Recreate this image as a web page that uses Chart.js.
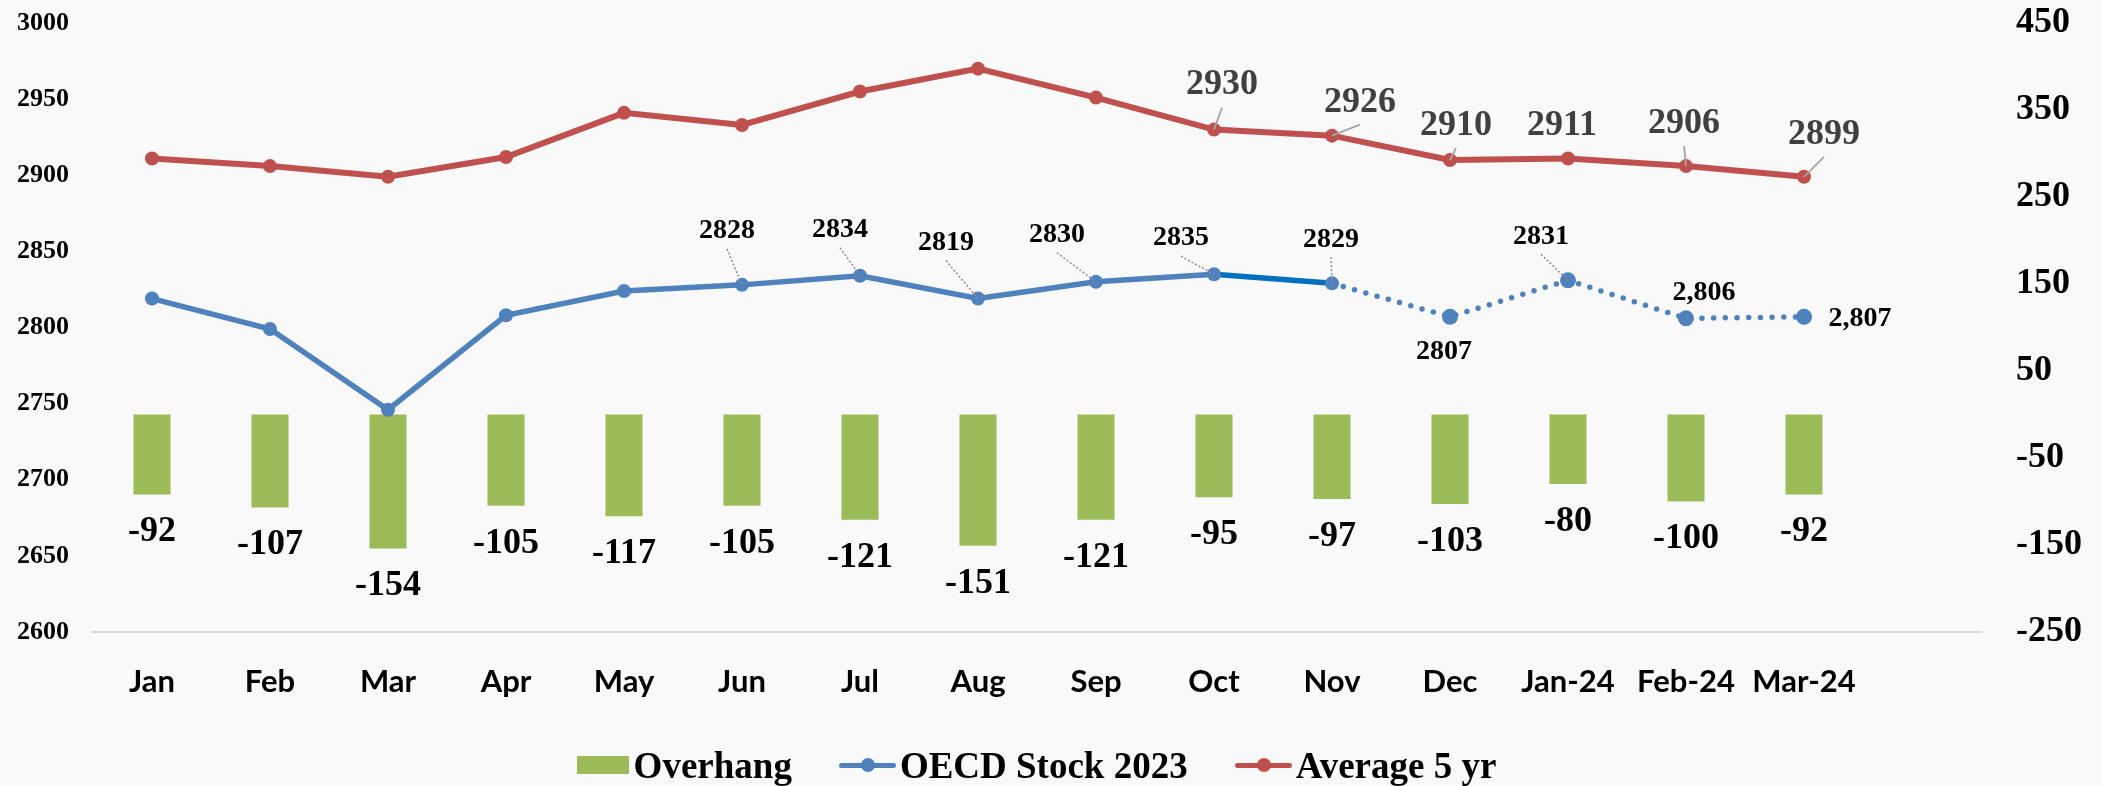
<!DOCTYPE html>
<html lang="en">

<head>
	<meta charset="UTF-8">
	<title>Overhang - OECD Stock</title>
	<script src="https://cdn.jsdelivr.net/npm/chart.js"></script>
	<style>
		html, body { margin: 0; padding: 0; background: #f9f9f9; }
		.wrapper { position: relative; width: 2102px; height: 786px; }
		#grafico { display: block; }
		#legenda {
			position: absolute; left: 0; top: 743px; width: 2102px; height: 44px;
			box-sizing: border-box; padding-right: 29px;
			display: flex; justify-content: center; align-items: center; gap: 47px;
			font: bold 37px "Liberation Serif"; color: #000;
		}
		#legenda .item { display: flex; align-items: center; white-space: nowrap; }
		#legenda .caixa { width: 52px; height: 18px; margin-right: 5px; }
		#legenda .marca { position: relative; width: 57px; height: 5px; border-radius: 3px; margin-right: 4px; }
		#legenda .marca::after {
			content: ''; position: absolute; left: 22px; top: -4.5px;
			width: 14px; height: 14px; border-radius: 50%; background: inherit;
		}
	</style>
</head>

<body>
	<div class="wrapper">
		<canvas id="grafico" width="2102" height="786"></canvas>
		<div id="legenda"></div>
	</div>

	<script>
		const meses = ['Jan', 'Feb', 'Mar', 'Apr', 'May', 'Jun', 'Jul', 'Aug', 'Sep', 'Oct', 'Nov', 'Dec', 'Jan-24', 'Feb-24', 'Mar-24', ''];
		const overhang = [-92, -107, -154, -105, -117, -105, -121, -151, -121, -95, -97, -103, -80, -100, -92, null];
		const oecdStock2023 = [2819, 2799, 2746, 2808, 2824, 2828, 2834, 2819, 2830, 2835, 2829, 2807, 2831, 2806, 2807, null];
		const average5yr = [2911, 2906, 2899, 2912, 2941, 2933, 2955, 2970, 2951, 2930, 2926, 2910, 2911, 2906, 2899, null];

		const leftMin = 2600, leftMax = 3000, leftStep = 50;
		const rightMin = -250, rightMax = 450, rightStep = 100;

		const verde = '#9BBB59';
		const azul = '#4F81BD';
		const azulForte = '#0070C0';
		const vermelho = '#C0504D';

		// where the value labels sit, relative to their point: [dx, dy, leader line]
		const posMedia = { 9: [8, -47, 1], 10: [28, -36, 1], 11: [6, -37, 1], 12: [-6, -35, 0], 13: [-2, -45, 1], 14: [20, -45, 1] };
		const posOecd = { 5: [-15, -56, 1], 6: [-20, -48, 1], 7: [-32, -58, 1], 8: [-39, -49, 1], 9: [-33, -38, 1], 10: [-1, -46, 1], 11: [-6, 33, 0], 12: [-27, -46, 1], 13: [18, -28, 0], 14: [56, 0, 0] };
		const comVirgula = [13, 14];

		function texto(ctx, s, x, cy, size) {
			ctx.fillText(s, x, cy + size * 0.33);
		}

		const rotulos = {
			id: 'rotulos',
			afterDatasetsDraw(chart) {
				const ctx = chart.ctx;
				ctx.save();
				ctx.textAlign = 'center';
				ctx.textBaseline = 'alphabetic';

				// overhang labels below each bar
				ctx.font = 'bold 36px "Liberation Serif"';
				ctx.fillStyle = '#000';
				chart.getDatasetMeta(0).data.forEach((bar, i) => {
					if (overhang[i] == null) return;
					texto(ctx, String(overhang[i]), bar.x, bar.y + 35, 36);
				});

				// OECD stock labels
				const oecdMeta = chart.getDatasetMeta(1).data;
				Object.keys(posOecd).forEach(k => {
					const i = Number(k);
					const p = oecdMeta[i];
					const [dx, dy, lider] = posOecd[k];
					const lx = p.x + dx, ly = p.y + dy;
					if (lider) {
						ctx.save();
						ctx.strokeStyle = '#8c8c8c';
						ctx.lineWidth = 1.5;
						ctx.setLineDash([2, 2]);
						ctx.beginPath();
						ctx.moveTo(lx, ly + 20);
						ctx.lineTo(p.x, p.y);
						ctx.stroke();
						ctx.restore();
					}
					ctx.font = 'bold 28px "Liberation Serif"';
					ctx.fillStyle = '#000';
					const v = comVirgula.includes(i) ? oecdStock2023[i].toLocaleString('en-US') : String(oecdStock2023[i]);
					texto(ctx, v, lx, ly, 28);
				});

				// 5 yr average labels
				const mediaMeta = chart.getDatasetMeta(2).data;
				Object.keys(posMedia).forEach(k => {
					const i = Number(k);
					const p = mediaMeta[i];
					const [dx, dy, lider] = posMedia[k];
					const lx = p.x + dx, ly = p.y + dy;
					if (lider) {
						ctx.strokeStyle = '#a6a6a6';
						ctx.lineWidth = 1.8;
						ctx.beginPath();
						ctx.moveTo(p.x, p.y);
						ctx.lineTo(lx, ly + 25);
						ctx.stroke();
					}
					ctx.font = 'bold 36px "Liberation Serif"';
					ctx.fillStyle = '#404040';
					texto(ctx, String(average5yr[i]), lx, ly, 36);
				});
				ctx.restore();
			}
		};

		const eixoY = (largura) => s => {
			s.width = largura;
			s.paddingTop = 0;
			s.paddingBottom = 0;
		};

		const ctx = document.getElementById('grafico').getContext('2d');
		const grafico = new Chart(ctx, {
			type: 'bar',
			data: {
				labels: meses,
				datasets: [{
					type: 'bar',
					label: 'Overhang',
					data: overhang,
					yAxisID: 'y1',
					backgroundColor: verde,
					borderWidth: 0,
					barPercentage: 0.314,
					categoryPercentage: 1,
					order: 2
				}, {
					type: 'line',
					label: 'OECD Stock 2023',
					data: oecdStock2023,
					yAxisID: 'y',
					borderColor: azul,
					backgroundColor: azul,
					borderWidth: 5.5,
					pointRadius: c => c.dataIndex >= 11 ? 8 : 7,
					pointBorderWidth: 0,
					pointBackgroundColor: azul,
					tension: 0,
					order: 1,
					segment: {
						borderColor: s => s.p0DataIndex === 9 ? azulForte : azul,
						borderDash: s => s.p0DataIndex >= 10 ? [0, 11.7] : [],
						borderCapStyle: s => s.p0DataIndex >= 10 ? 'round' : 'butt'
					}
				}, {
					type: 'line',
					label: 'Average 5 yr',
					data: average5yr,
					yAxisID: 'y',
					borderColor: vermelho,
					backgroundColor: vermelho,
					borderWidth: 6,
					pointRadius: 7,
					pointBorderWidth: 0,
					pointBackgroundColor: vermelho,
					tension: 0,
					order: 0
				}]
			},
			options: {
				responsive: false,
				animation: false,
				layout: { padding: { top: 23, bottom: 0, left: 0, right: 0 } },
				plugins: {
					tooltip: { enabled: false },
					legend: { display: false }
				},
				scales: {
					x: {
						grid: { display: false, drawTicks: false },
						border: { display: true, color: '#d9d9d9', width: 2 },
						ticks: {
							color: '#000',
							padding: 31,
							autoSkip: false,
							maxRotation: 0,
							font: { family: 'Lato', weight: 'bold', size: 31 }
						},
						afterFit: s => {
							s.height = 154;
							s.paddingLeft = 0;
							s.paddingRight = 0;
						}
					},
					y: {
						position: 'left',
						min: leftMin,
						max: leftMax,
						grid: { display: false, drawTicks: false },
						border: { display: false },
						ticks: {
							stepSize: leftStep,
							color: '#000',
							padding: 24,
							callback: v => String(v),
							font: { family: 'Liberation Serif', weight: 'bold', size: 26 }
						},
						afterFit: eixoY(93)
					},
					y1: {
						position: 'right',
						min: rightMin,
						max: rightMax,
						grid: { display: false, drawTicks: false },
						border: { display: false },
						ticks: {
							stepSize: rightStep,
							color: '#000',
							padding: 35,
							callback: v => String(v),
							font: { family: 'Liberation Serif', weight: 'bold', size: 36 }
						},
						afterFit: eixoY(121)
					}
				}
			},
			plugins: [rotulos]
		});

		// legend built from the dataset labels
		const legenda = document.getElementById('legenda');
		grafico.data.datasets.forEach((ds, i) => {
			const marca = i === 0
				? `<span class="caixa" style="background:${ds.backgroundColor}"></span>`
				: `<span class="marca" style="background:${ds.borderColor}"></span>`;
			legenda.innerHTML += `<div class="item">${marca}${ds.label}</div>`;
		});
	</script>
</body>

</html>
